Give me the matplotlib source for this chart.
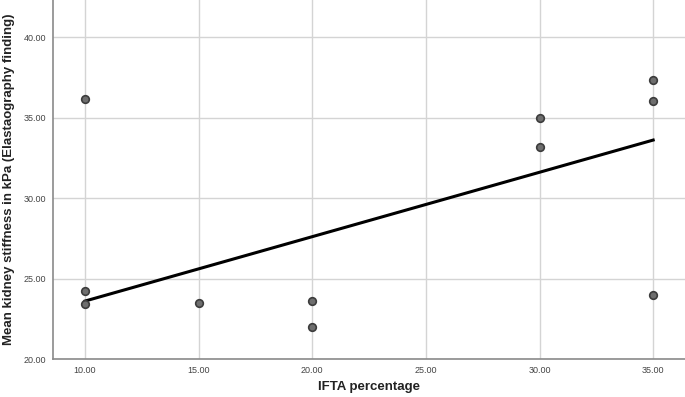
import matplotlib.pyplot as plt
import numpy as np

# IFTA percentage vs mean kidney stiffness
ifta_pct = [10, 10, 10, 15, 20, 20, 30, 30, 35, 35, 35]
stiffness_kpa = [36.15, 24.2, 23.4, 23.5, 23.6, 22.0, 35.0, 33.2, 37.35, 36.0, 24.0]

# fit line as drawn in the original figure
fit_x = [10, 35]
fit_y = [23.6, 33.6]

x_ticks = [10, 15, 20, 25, 30, 35]
y_ticks = [20, 25, 30, 35, 40]

plt.rcParams['font.family'] = ['Liberation Sans', 'DejaVu Sans']

fig = plt.figure(figsize=(6.85, 3.97), dpi=100)
ax = fig.add_axes([0.0774, 0.0957, 0.9226, 0.9043])

ax.grid(True, color='#d4d4d4', linewidth=1.0)
ax.set_axisbelow(True)

ax.plot(fit_x, fit_y, color='black', linewidth=2.2, zorder=3)
ax.scatter(ifta_pct, stiffness_kpa, s=30, color='#6e6e6e', edgecolors='#3c3c3c',
           linewidths=1.2, zorder=4)

ax.set_xlim(8.59, 36.4)
ax.set_ylim(20, 42.3)
ax.set_xticks(x_ticks)
ax.set_yticks(y_ticks)
ax.set_xticklabels([f"{v:.2f}" for v in x_ticks])
ax.set_yticklabels([f"{v:.2f}" for v in y_ticks])
ax.tick_params(length=0, labelsize=6.5, labelcolor='#444444', pad=5)

for side in ['top', 'right']:
    ax.spines[side].set_visible(False)
for side in ['left', 'bottom']:
    ax.spines[side].set_color('#8a8a8a')
    ax.spines[side].set_linewidth(1.2)

ax.set_xlabel('IFTA percentage', fontsize=9.5, fontweight='bold', color='#222222', labelpad=4)
ax.set_ylabel('Mean kidney stiffness in kPa (Elastaography finding)', fontsize=9.5,
              fontweight='bold', color='#222222', labelpad=6)

fig.savefig('out.png', dpi=100)
